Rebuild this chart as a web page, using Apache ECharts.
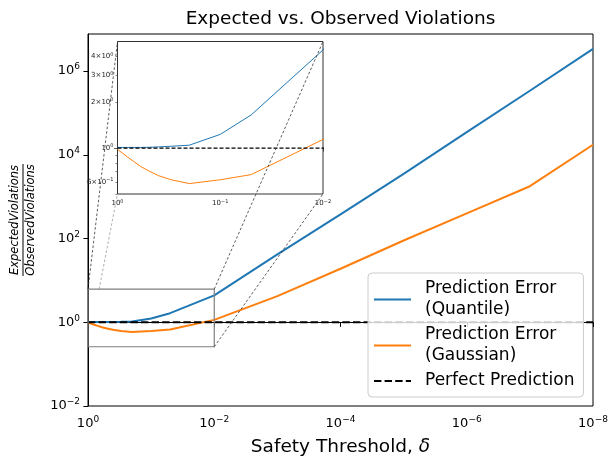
<!DOCTYPE html>
<html><head><meta charset="utf-8">
<script src="https://cdn.jsdelivr.net/npm/echarts@6/dist/echarts.min.js"></script>
<style>html,body{margin:0;padding:0;background:#fff}#c{width:608px;height:456px}</style>
</head><body><div id="c"></div>
<script>
// ---- data ----
const thresholds     = [1, 0.9, 0.8, 0.7, 0.6, 0.5, 0.4, 0.3, 0.2, 0.1, 0.05, 0.01, 1e-3, 1e-4, 1e-5, 1e-6, 1e-7, 1e-8];
const quantileRatio  = [1.01, 1.01, 1.01, 1.01, 1.01, 1.012, 1.018, 1.028, 1.045, 1.23, 1.65, 4.4, 42, 380, 3500, 35000, 340000, 3400000];
const gaussianRatio  = [0.98, 0.93, 0.875, 0.82, 0.76, 0.71, 0.66, 0.62, 0.585, 0.62, 0.67, 1.14, 4.2, 19, 90, 400, 1780, 17400];
const perfectRatio   = [1, 1, 1, 1, 1, 1, 1, 1, 1, 1, 1, 1, 1, 1, 1, 1, 1, 1];
const seriesNames    = ['Prediction Error\n(Quantile)', 'Prediction Error\n(Gaussian)', 'Perfect Prediction'];
const mainXRange     = [1, 1e-8];
const mainYRange     = [0.01, 7.7e6];
const insetXRange    = [1, 0.01];
const insetYRange    = [0.5, 5];
const zoomBoxY       = [0.26, 6.2];
const insetXLabels   = [1, 0.1, 0.01];
const insetXMinor    = [0.9, 0.8, 0.7, 0.6, 0.5, 0.4, 0.3, 0.2, 0.09, 0.08, 0.07, 0.06, 0.05, 0.04, 0.03, 0.02];
const insetYLabels   = [0.6, 1, 2, 3, 4];
const insetYMinor    = [0.5, 0.6, 0.7, 0.8, 0.9, 2, 3, 4];
const titleText      = 'Expected vs. Observed Violations';
const xName          = 'Safety Threshold, ';
const yNum           = 'ExpectedViolations';
const yDen           = 'ObservedViolations';

// ---- helpers ----
const L = Math.log10;
const pairs = (ys) => thresholds.map((x, i) => [L(x), L(ys[i])]);
const supTxt = (e) => e < 0 ? '\u2212' + (-e) : String(e);
const mainLabel = (v) => '{b|10}{s|' + supTxt(Math.round(v)) + '}';
const insetLabel = (v) => {
  const val = Math.pow(10, v);
  const e = Math.floor(v + 1e-9);
  const m = Math.round(val / Math.pow(10, e));
  return (m === 1 ? '{b|10}' : '{b|' + m + '\u00d710}') + '{s|' + supTxt(e) + '}';
};
const FONT = 'DejaVu Sans';
const mainRich = { b: { fontSize: 13, fontFamily: FONT, color: '#000' }, s: { fontSize: 9, fontFamily: FONT, color: '#000', padding: [0, 0, 8, 0] } };
const insetRich = { b: { fontSize: 7, fontFamily: FONT, color: '#222' }, s: { fontSize: 5, fontFamily: FONT, color: '#222', padding: [0, 0, 4, 0] } };

const chart = echarts.init(document.getElementById('c'), null, { renderer: 'canvas' });

const option = {
  animation: false,
  backgroundColor: '#fff',
  grid: [
    { left: 88, right: 15, top: 34, bottom: 50, show: true, borderColor: '#000', borderWidth: 1, backgroundColor: 'transparent', z: 0,
      containLabel: false, outerBoundsMode: 'none' },
    { left: 117.5, top: 41.5, width: 205.5, height: 152.5, show: true, borderColor: '#333', borderWidth: 1, backgroundColor: '#fff', z: 1,
      containLabel: false, outerBoundsMode: 'none' }
  ],
  legend: {
    data: seriesNames,
    orient: 'vertical',
    left: 368, top: 273,
    padding: [5.5, 0, 5.5, 5],
    itemGap: 4,
    itemWidth: 37, itemHeight: 12,
    itemStyle: { opacity: 0, borderWidth: 0 },
    backgroundColor: 'rgba(255,255,255,0.8)',
    borderColor: '#cccccc', borderWidth: 1, borderRadius: 4,
    textStyle: { fontSize: 17, lineHeight: 21, fontFamily: FONT, color: '#000', padding: [0, 9, 0, 9] },
    selectedMode: false,
    z: 10
  },
  xAxis: [
    { type: 'value', gridIndex: 0, min: L(mainXRange[1]), max: L(mainXRange[0]), interval: 2, inverse: true,
      axisLine: { show: true, lineStyle: { color: '#000', width: 1 } },
      axisTick: { show: true, length: 4.6, lineStyle: { color: '#000' } },
      axisLabel: { formatter: mainLabel, rich: mainRich, margin: 9 },
      splitLine: { show: false },
      name: xName + '{i|\u03b4}', nameLocation: 'middle', nameGap: 32,
      nameTextStyle: { fontSize: 18.5, fontFamily: FONT, color: '#000', rich: { i: { fontSize: 18.5, fontFamily: FONT, fontStyle: 'italic', color: '#000' } } } },
    { type: 'value', gridIndex: 1, position: 'bottom', min: L(insetXRange[1]), max: L(insetXRange[0]), inverse: true,
      axisLine: { show: false },
      axisTick: { show: true, length: 3.5, customValues: insetXLabels.map(L), lineStyle: { color: '#333', width: 0.8 } },
      axisLabel: { show: true, customValues: insetXLabels.map(L), formatter: insetLabel, rich: insetRich, margin: 5 },
      splitLine: { show: false } },
    { type: 'value', gridIndex: 1, position: 'bottom', offset: 0, min: L(insetXRange[1]), max: L(insetXRange[0]), inverse: true,
      axisLine: { show: false },
      axisTick: { show: true, length: 2, customValues: insetXMinor.map(L), lineStyle: { color: '#333', width: 0.6 } },
      axisLabel: { show: false },
      splitLine: { show: false } }
  ],
  yAxis: [
    { type: 'value', gridIndex: 0, min: L(mainYRange[0]), max: L(mainYRange[1]), interval: 2,
      axisLine: { show: true, lineStyle: { color: '#000', width: 1 } },
      axisTick: { show: true, length: 4.6, lineStyle: { color: '#000' } },
      axisLabel: { formatter: mainLabel, rich: mainRich, margin: 8, showMaxLabel: false },
      splitLine: { show: false } },
    { type: 'value', gridIndex: 1, position: 'left', min: L(insetYRange[0]), max: L(insetYRange[1]),
      axisLine: { show: false },
      axisTick: { show: true, length: 3.5, customValues: [0], lineStyle: { color: '#333', width: 0.8 } },
      axisLabel: { show: true, customValues: insetYLabels.map(L), formatter: insetLabel, rich: insetRich, margin: 4 },
      splitLine: { show: false } },
    { type: 'value', gridIndex: 1, position: 'left', offset: 0, min: L(insetYRange[0]), max: L(insetYRange[1]),
      axisLine: { show: false },
      axisTick: { show: true, length: 2, customValues: insetYMinor.map(L), lineStyle: { color: '#333', width: 0.6 } },
      axisLabel: { show: false },
      splitLine: { show: false } }
  ],
  series: [
    { name: seriesNames[0], type: 'line', xAxisIndex: 0, yAxisIndex: 0, data: pairs(quantileRatio), symbol: 'none', silent: true,
      lineStyle: { color: '#1f77b4', width: 2 }, itemStyle: { color: '#1f77b4' }, z: 2 },
    { name: seriesNames[1], type: 'line', xAxisIndex: 0, yAxisIndex: 0, data: pairs(gaussianRatio), symbol: 'none', silent: true,
      lineStyle: { color: '#ff7f0e', width: 2 }, itemStyle: { color: '#ff7f0e' }, z: 2 },
    { name: seriesNames[2], type: 'line', xAxisIndex: 0, yAxisIndex: 0, data: pairs(perfectRatio), symbol: 'none', silent: true,
      lineStyle: { color: '#000', width: 2, type: [7.4, 3.2] }, itemStyle: { color: '#000' }, z: 3 },
    { name: 'inset-q', type: 'line', xAxisIndex: 1, yAxisIndex: 1, data: pairs(quantileRatio), symbol: 'none', silent: true, clip: true,
      lineStyle: { color: '#1f77b4', width: 1 }, z: 5 },
    { name: 'inset-g', type: 'line', xAxisIndex: 1, yAxisIndex: 1, data: pairs(gaussianRatio), symbol: 'none', silent: true, clip: true,
      lineStyle: { color: '#ff7f0e', width: 1 }, z: 5 },
    { name: 'inset-p', type: 'line', xAxisIndex: 1, yAxisIndex: 1, data: pairs(perfectRatio), symbol: 'none', silent: true, clip: true,
      lineStyle: { color: '#000', width: 1.1, type: [4, 2] }, z: 6 }
  ]
};
chart.setOption(option);

// ---- zoom box, connectors, title, y label (positions from the axes) ----
const px = (si, x, y) => chart.convertToPixel({ seriesIndex: si }, [L(x), L(y)]);
const rTL = px(0, insetXRange[0], zoomBoxY[1]);
const rBR = px(0, insetXRange[1], zoomBoxY[0]);
const iTL = px(3, insetXRange[0], insetYRange[1]);
const iBR = px(3, insetXRange[1], insetYRange[0]);
const m0 = px(0, mainXRange[0], mainYRange[0]);
const m1 = px(0, mainXRange[1], mainYRange[1]);
const cx = (m0[0] + m1[0]) / 2, cy = (m0[1] + m1[1]) / 2;

// BL connector is hidden inside the zoom box: start it at the box top
const t = (rTL[1] - rBR[1]) / (iBR[1] - rBR[1]);
const blStart = [rTL[0] + t * (iTL[0] - rTL[0]), rTL[1]];
const dash = { stroke: '#333', lineWidth: 0.8, lineDash: [2.6, 2] };

chart.setOption({
  graphic: [
    { type: 'rect', z: 20, silent: true, shape: { x: rTL[0], y: rTL[1], width: rBR[0] - rTL[0], height: rBR[1] - rTL[1] },
      style: { fill: 'none', stroke: '#7f7f7f', lineWidth: 1.2 } },
    { type: 'line', z: 20, silent: true, shape: { x1: rTL[0], y1: rTL[1], x2: iTL[0], y2: iTL[1] }, style: dash },
    { type: 'line', z: 20, silent: true, shape: { x1: rBR[0], y1: rTL[1], x2: iBR[0], y2: iTL[1] }, style: dash },
    { type: 'line', z: 20, silent: true, shape: { x1: rBR[0], y1: rBR[1], x2: iBR[0], y2: iBR[1] }, style: dash },
    { type: 'line', z: 20, silent: true, shape: { x1: blStart[0], y1: blStart[1], x2: iTL[0], y2: iBR[1] },
      style: { stroke: '#999', lineWidth: 0.8, lineDash: [2.6, 2] } },
    { type: 'text', z: 20, silent: true, x: cx, y: 19,
      style: { text: titleText, font: '18.5px "DejaVu Sans"', fill: '#000', align: 'center', verticalAlign: 'middle' } },
    { type: 'group', x: 23, y: cy, rotation: Math.PI / 2, silent: true, children: [
      { type: 'text', x: 0, y: -2, style: { text: yNum, font: 'italic 11.5px "DejaVu Sans"', fill: '#000', align: 'center', verticalAlign: 'bottom' } },
      { type: 'line', shape: { x1: -56, y1: 0, x2: 56, y2: 0 }, style: { stroke: '#000', lineWidth: 1 } },
      { type: 'text', x: 0, y: 2, style: { text: yDen, font: 'italic 11.5px "DejaVu Sans"', fill: '#000', align: 'center', verticalAlign: 'top' } }
    ] }
  ]
});
</script>
</body></html>
